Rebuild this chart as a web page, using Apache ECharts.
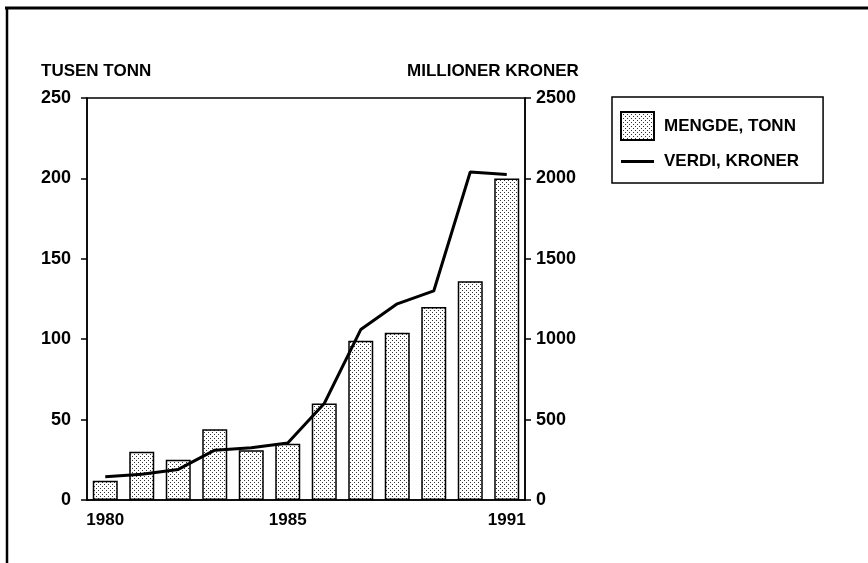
<!DOCTYPE html>
<html lang="no" style="height: 100%">
<head>
    <meta charset="UTF-8">
    <title>Mengde og verdi 1980-1991</title>
    <script src="https://cdn.jsdelivr.net/npm/echarts@6/dist/echarts.min.js"></script>
</head>
<body style="height: 100%; margin: 0; background: #fff">
<div id="main" style="width: 868px; height: 563px"></div>
<script>
    // data
    var years = ['1980', '1981', '1982', '1983', '1984', '1985', '1986', '1987', '1988', '1989', '1990', '1991'];
    var mengde = [12, 30, 25, 44, 31, 35, 60, 99, 104, 120, 136, 200];       // tusen tonn
    var verdi = [145, 160, 190, 310, 325, 355, 600, 1060, 1220, 1300, 2040, 2025]; // millioner kroner
    var shownYears = ['1980', '1985', '1991'];

    // dotted fill like the print raster
    var pat = document.createElement('canvas');
    pat.width = 4; pat.height = 4;
    var pc = pat.getContext('2d');
    pc.fillStyle = '#fff';
    pc.fillRect(0, 0, 4, 4);
    pc.fillStyle = '#333';
    pc.fillRect(0, 0, 1, 1);
    pc.fillRect(2, 2, 1, 1);

    var font = '"Liberation Sans", Arial, sans-serif';

    var myoption = {
        animation: false,
        backgroundColor: '#fff',
        textStyle: {fontFamily: font},
        grid: {
            left: 87, right: 343, top: 98, bottom: 63,
            show: true, borderColor: '#000', borderWidth: 1.5
        },
        graphic: [
            {type: 'line', shape: {x1: 5, y1: 8, x2: 868, y2: 8}, style: {stroke: '#000', lineWidth: 3}},
            {type: 'line', shape: {x1: 7, y1: 8, x2: 7, y2: 563}, style: {stroke: '#000', lineWidth: 2.5}},
            {type: 'text', left: 41, top: 63, style: {text: 'TUSEN TONN', font: 'bold 17px ' + font, fill: '#000'}},
            {type: 'text', left: 407, top: 63, style: {text: 'MILLIONER KRONER', font: 'bold 17px ' + font, fill: '#000'}}
        ],
        legend: {
            left: 612, top: 97,
            orient: 'vertical',
            padding: [14, 24, 13, 8],
            itemGap: 12,
            itemWidth: 33,
            itemHeight: 28,
            borderColor: '#000',
            borderWidth: 1.5,
            borderRadius: 0,
            textStyle: {fontWeight: 'bold', fontSize: 17, color: '#000', fontFamily: font, padding: [0, 0, 0, 5]},
            data: [
                {name: 'MENGDE, TONN', icon: 'rect'},
                {name: 'VERDI, KRONER', icon: 'path://M0,0 L33,0 L33,3 L0,3 Z'}
            ]
        },
        xAxis: {
            type: 'category',
            data: years,
            boundaryGap: true,
            axisLine: {lineStyle: {color: '#000', width: 1.5}},
            axisTick: {alignWithLabel: true, interval: 0, length: 6, lineStyle: {color: '#000', width: 1.5}},
            axisLabel: {
                interval: function (i, v) { return shownYears.indexOf(v) >= 0; },
                color: '#000', fontWeight: 'bold', fontSize: 17, margin: 12
            }
        },
        yAxis: [
            {
                type: 'value', min: 0, max: 250, interval: 50,
                position: 'left',
                splitLine: {show: false},
                axisLine: {show: true, lineStyle: {color: '#000', width: 1.5}},
                axisTick: {show: true, length: 6, lineStyle: {color: '#000', width: 1.5}},
                axisLabel: {color: '#000', fontWeight: 'bold', fontSize: 18, margin: 16}
            },
            {
                type: 'value', min: 0, max: 2500, interval: 500,
                position: 'right',
                splitLine: {show: false},
                axisLine: {show: true, lineStyle: {color: '#000', width: 1.5}},
                axisTick: {show: true, length: 6, lineStyle: {color: '#000', width: 1.5}},
                axisLabel: {
                    color: '#000', fontWeight: 'bold', fontSize: 18, margin: 11,
                    formatter: function (v) { return String(v); }
                }
            }
        ],
        series: [
            {
                name: 'MENGDE, TONN',
                type: 'bar',
                yAxisIndex: 0,
                barWidth: 25,
                itemStyle: {
                    color: {image: pat, repeat: 'repeat'},
                    borderColor: '#000',
                    borderWidth: 1.5
                },
                data: mengde
            },
            {
                name: 'VERDI, KRONER',
                type: 'line',
                yAxisIndex: 1,
                symbol: 'none',
                lineStyle: {color: '#000', width: 3},
                itemStyle: {color: '#000'},
                data: verdi
            }
        ]
    };
    var myChart = echarts.init(document.getElementById('main'));
    myChart.setOption(myoption);
</script>
</body>
</html>
